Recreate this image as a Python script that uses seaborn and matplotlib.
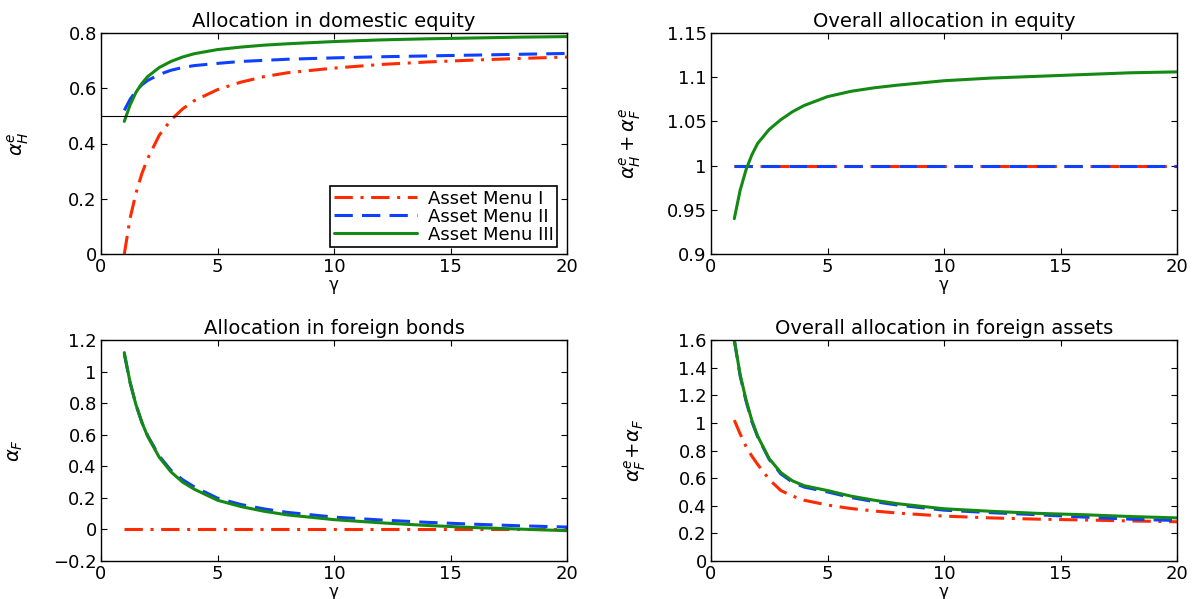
import numpy as np
import pandas as pd
import matplotlib
matplotlib.use('Agg')
import matplotlib.pyplot as plt
import seaborn as sns

# ── Data ──────────────────────────────────────
gamma = [1, 1.25, 1.5, 1.75, 2, 2.5, 3, 3.5, 4, 5, 6, 7, 8, 10, 12, 14, 16, 18, 20]

# domestic equity alpha^e_H
dom_eq_I   = [0.0, 0.13, 0.22, 0.29, 0.345, 0.43, 0.485, 0.525, 0.555, 0.595, 0.622, 0.642, 0.656, 0.673, 0.686, 0.695, 0.702, 0.708, 0.713]
dom_eq_II  = [0.52, 0.56, 0.59, 0.612, 0.628, 0.65, 0.665, 0.675, 0.682, 0.69, 0.697, 0.701, 0.705, 0.71, 0.714, 0.717, 0.72, 0.723, 0.726]
dom_eq_III = [0.48, 0.54, 0.585, 0.617, 0.642, 0.675, 0.697, 0.713, 0.725, 0.74, 0.749, 0.756, 0.761, 0.769, 0.775, 0.779, 0.782, 0.785, 0.787]

# overall equity alpha^e_H + alpha^e_F
all_eq_I   = [1.0] * 19
all_eq_II  = [1.0] * 19
all_eq_III = [0.94, 0.972, 0.995, 1.012, 1.025, 1.041, 1.052, 1.061, 1.068, 1.078, 1.084, 1.088, 1.091, 1.096, 1.099, 1.101, 1.103, 1.105, 1.106]

# foreign bonds alpha_F
for_bd_I   = [0.0] * 19
for_bd_II  = [1.11, 0.93, 0.79, 0.68, 0.595, 0.465, 0.375, 0.315, 0.27, 0.198, 0.158, 0.13, 0.108, 0.078, 0.06, 0.045, 0.033, 0.023, 0.015]
for_bd_III = [1.12, 0.93, 0.79, 0.68, 0.59, 0.457, 0.365, 0.30, 0.255, 0.185, 0.145, 0.115, 0.092, 0.062, 0.042, 0.025, 0.012, 0.002, -0.008]

# overall foreign alpha^e_F + alpha_F
all_fo_I   = [1.02, 0.92, 0.83, 0.76, 0.70, 0.59, 0.51, 0.47, 0.44, 0.405, 0.38, 0.362, 0.347, 0.325, 0.312, 0.303, 0.297, 0.29, 0.284]
all_fo_II  = [1.6, 1.34, 1.16, 1.01, 0.90, 0.735, 0.63, 0.57, 0.535, 0.50, 0.46, 0.43, 0.405, 0.368, 0.35, 0.335, 0.318, 0.303, 0.293]
all_fo_III = [1.6, 1.35, 1.17, 1.02, 0.905, 0.74, 0.64, 0.58, 0.545, 0.51, 0.47, 0.44, 0.415, 0.378, 0.36, 0.345, 0.335, 0.322, 0.312]

menus = ['Asset Menu I', 'Asset Menu II', 'Asset Menu III']
colors = {'Asset Menu I': '#ff2a00', 'Asset Menu II': '#1040ff', 'Asset Menu III': '#148a14'}
dashes = {'Asset Menu I': (6, 2.5, 1, 2.5), 'Asset Menu II': (6, 3), 'Asset Menu III': None}

# ── Style ─────────────────────────────────────
sns.set_style('ticks')
plt.rcParams['font.family'] = ['DejaVu Sans']
plt.rcParams['font.size'] = 13
plt.rcParams['mathtext.fontset'] = 'dejavusans'
plt.rcParams['xtick.direction'] = 'in'
plt.rcParams['ytick.direction'] = 'in'
plt.rcParams['xtick.top'] = True
plt.rcParams['ytick.right'] = True
for k in ['text.color', 'axes.labelcolor', 'xtick.color', 'ytick.color']:
    plt.rcParams[k] = 'black'

fig = plt.figure(figsize=(11.94, 5.99), dpi=100)
W, H = 1194, 599
def box(l, t, r, b):
    return [l / W, 1 - b / H, (r - l) / W, (b - t) / H]

panels = [
    (box(101, 33, 567, 254), [dom_eq_I, dom_eq_II, dom_eq_III],
     'Allocation in domestic equity', r'$\alpha^e_H$', (0, 0.8), np.arange(0, 0.81, 0.2), -0.15),
    (box(711, 33, 1177, 254), [all_eq_I, all_eq_II, all_eq_III],
     'Overall allocation in equity', r'$\alpha^e_H+\alpha^e_F$', (0.9, 1.15), np.arange(0.9, 1.151, 0.05), -0.145),
    (box(101, 340, 567, 561), [for_bd_I, for_bd_II, for_bd_III],
     'Allocation in foreign bonds', r'$\alpha_F$', (-0.2, 1.2), np.arange(-0.2, 1.21, 0.2), -0.163),
    (box(711, 340, 1177, 561), [all_fo_I, all_fo_II, all_fo_III],
     'Overall allocation in foreign assets', r'$\alpha^e_F\!+\!\alpha_F$', (0, 1.6), np.arange(0, 1.61, 0.2), -0.135),
]

def fmt(v):
    s = f'{v:.2f}'.rstrip('0').rstrip('.')
    return s.replace('-', '\u2212')

axes = []
for rect, series, title, ylab, ylim, yt, ylx in panels:
    ax = fig.add_axes(rect)
    for name, vals in zip(menus, series):
        line = sns.lineplot(x=gamma, y=vals, ax=ax, color=colors[name],
                            linewidth=2.2, label=name).lines[-1]
        if dashes[name] is not None:
            line.set_dashes(dashes[name])
    ax.set_xlim(0, 20)
    ax.set_ylim(*ylim)
    ax.set_xticks([0, 5, 10, 15, 20])
    ax.set_yticks(yt)
    ax.set_yticklabels([fmt(v) for v in yt])
    ax.set_title(title, fontsize=14, pad=4)
    ax.set_xlabel('γ', fontsize=12, labelpad=0)
    ax.set_ylabel(ylab, fontsize=14)
    ax.yaxis.set_label_coords(ylx, 0.5)
    ax.tick_params(labelsize=13, length=4, width=0.8, pad=3)
    for sp in ax.spines.values():
        sp.set_linewidth(1.0)
        sp.set_color('black')
    ax.get_legend().remove()
    axes.append(ax)

# reference line at 0.5 in the first panel
axes[0].axhline(0.5, color='black', linewidth=0.8)

leg = axes[0].legend(loc='lower right', bbox_to_anchor=(0.979, 0.03), fancybox=False,
                     edgecolor='black', framealpha=1, fontsize=13,
                     handlelength=4.6, handletextpad=0.6, borderpad=0.2,
                     borderaxespad=0.0, labelspacing=0.0)
leg.get_frame().set_linewidth(1.2)
for h, name in zip(leg.get_lines(), menus):
    if dashes[name] is not None:
        h.set_dashes(dashes[name])

plt.savefig('out.png', dpi=100)
